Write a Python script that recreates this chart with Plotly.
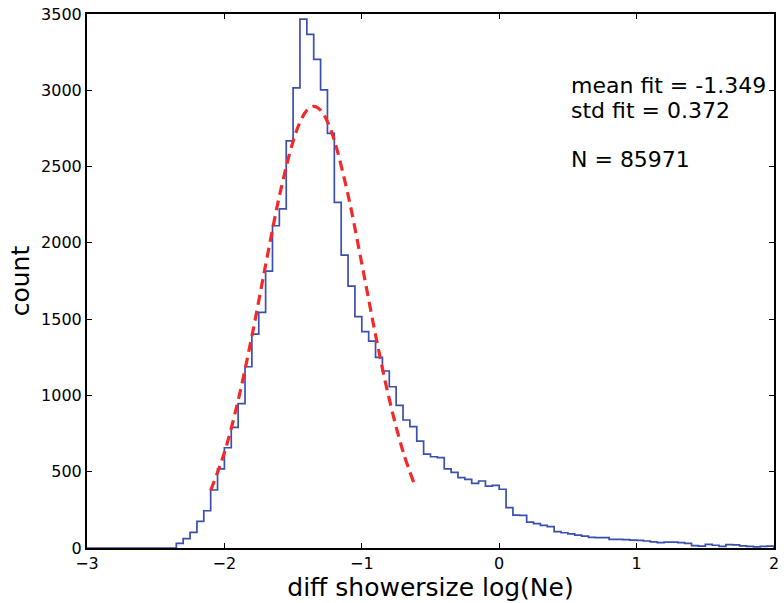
import numpy as np
import plotly.graph_objects as go

# histogram: 100 bins of width 0.05 from -3 to 2
bin_start = -3.0
bin_width = 0.05
counts = [
    0, 0, 0, 0, 0, 0, 0, 0, 0, 0,
    0, 0, 0, 30, 62, 103, 175, 244, 380, 518,
    657, 791, 946, 1188, 1402, 1545, 1815, 2112, 2223, 2669,
    3016, 3467, 3366, 3202, 3003, 2717, 2265, 1920, 1717, 1516,
    1418, 1356, 1250, 1160, 1057, 935, 839, 795, 701, 615,
    598, 592, 518, 496, 461, 450, 424, 439, 406, 411,
    385, 264, 216, 214, 170, 160, 148, 140, 107, 100,
    92, 85, 78, 70, 68, 68, 57, 57, 55, 52,
    50, 46, 40, 35, 38, 38, 35, 30, 15, 12,
    24, 18, 10, 22, 20, 14, 10, 8, 10, 12,
]

# fitted gaussian curve
fit_x = [-2.10, -2.00, -1.90, -1.80, -1.70, -1.60, -1.50, -1.45, -1.40, -1.35,
         -1.30, -1.25, -1.20, -1.10, -1.00, -0.90, -0.80, -0.70, -0.62]
fit_y = [377, 626, 967, 1388, 1855, 2306, 2666, 2790, 2868, 2895,
         2870, 2794, 2672, 2314, 1864, 1397, 975, 632, 425]

x_ticks = [-3, -2, -1, 0, 1, 2]
x_tick_text = ["\u22123", "\u22122", "\u22121", "0", "1", "2"]
y_ticks = [0, 500, 1000, 1500, 2000, 2500, 3000, 3500]

info_lines = ["mean fit = -1.349", "std fit = 0.372", "N = 85971"]

edges = [bin_start + i * bin_width for i in range(len(counts) + 1)]
step_x = edges + [edges[-1]]
step_y = counts + [counts[-1], 0]

fig = go.Figure()
fig.add_trace(go.Scatter(
    x=step_x, y=step_y, mode="lines", line=dict(shape="hv", color="#3a4fae", width=1.7),
    showlegend=False, hoverinfo="skip",
))
fig.add_trace(go.Scatter(
    x=fit_x, y=fit_y, mode="lines", line=dict(shape="spline", color="#f42a2a", width=3.2, dash="10px,6px"),
    showlegend=False, hoverinfo="skip",
))

font_family = "DejaVu Sans"
axis_common = dict(
    showline=True, linecolor="black", linewidth=2, mirror="allticks",
    ticks="inside", ticklen=5, tickwidth=1, tickcolor="black",
    showgrid=False, zeroline=False,
    tickfont=dict(family=font_family, size=16, color="black"),
)

fig.update_xaxes(
    range=[-3, 2], tickvals=x_ticks, ticktext=x_tick_text,
    title=dict(text="diff showersize log(Ne)", font=dict(family=font_family, size=25, color="black"), standoff=2),
    **axis_common,
)
fig.update_yaxes(
    range=[0, 3500], tickvals=y_ticks,
    title=dict(text="count", font=dict(family=font_family, size=25, color="black"), standoff=4),
    **axis_common,
)

ys = [0.867, 0.820, 0.727]
for txt, yy in zip(info_lines, ys):
    fig.add_annotation(
        x=0.701, y=yy, xref="paper", yref="paper", text=txt, showarrow=False,
        xanchor="left", yanchor="middle",
        font=dict(family=font_family, size=22, color="black"),
    )

fig.update_layout(
    width=784, height=603,
    margin=dict(l=87, r=5, t=14, b=55),
    plot_bgcolor="white", paper_bgcolor="white",
    font=dict(family=font_family, color="black"),
)

fig.write_html("out.html")
